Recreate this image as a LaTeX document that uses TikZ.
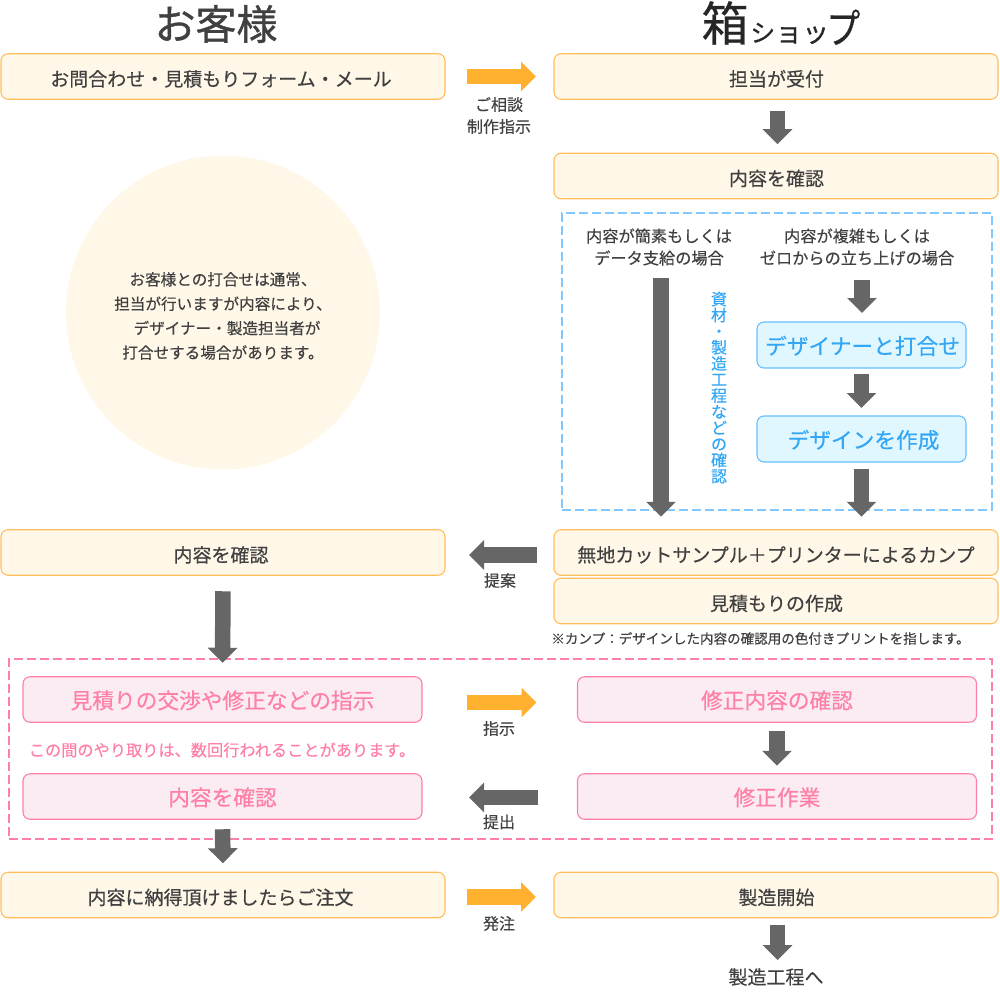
\documentclass[tikz,border=0pt]{standalone}
\usepackage{fontspec}
\setmainfont{Noto Sans CJK JP}[FakeBold=0.35]
\newfontfamily\titlefont{Noto Sans CJK JP}[FakeBold=0.9]
\newfontfamily\logofont{Noto Sans CJK JP}[FakeBold=0.5]
\usetikzlibrary{arrows.meta}
\definecolor{txt}{HTML}{404040}
\definecolor{oline}{HTML}{FFBE5C}
\definecolor{ofill}{HTML}{FFF7E8}
\definecolor{oarrow}{HTML}{FFB02E}
\definecolor{bline}{HTML}{66BFFF}
\definecolor{bfill}{HTML}{E0F7FF}
\definecolor{btxt}{HTML}{33A6F5}
\definecolor{bdash}{HTML}{80C8FF}
\definecolor{pline}{HTML}{FF80A6}
\definecolor{pfill}{HTML}{FBEBF3}
\definecolor{gray6}{HTML}{666666}
\newcommand{\fs}[2]{\fontsize{#1}{#2}\selectfont}
\tikzset{
  base/.style={inner sep=0pt,outer sep=0pt,rounded corners=7pt,line width=1.1pt,text depth=0pt,align=center},
  obox/.style={base,draw=oline,fill=ofill,text=txt,font=\fs{19}{22},text height=19.2pt,minimum width=444pt,minimum height=45.5pt},
  bbox/.style={base,draw=bline,fill=bfill,text=btxt,font=\fs{21.7}{26},minimum width=209pt,minimum height=46pt},
  pbox/.style={base,draw=pline,fill=pfill,text=pline,font=\fs{21.7}{26},minimum width=399pt,minimum height=45.5pt},
  label/.style={inner sep=0pt,text=txt,font=\fs{16}{22},align=center},
  bodytext/.style={inner sep=0pt,text=txt,font=\fs{16.2}{22},align=center},
  grayarrow/.style={draw=gray6,line width=15.5pt,-{Triangle[length=15pt,width=29pt,fill=gray6]}},
  orangearrow/.style={draw=oarrow,line width=15.5pt,-{Triangle[length=15pt,width=29pt,fill=oarrow]}},
  bluedash/.style={draw=bdash,line width=1.5pt,dash pattern=on 9pt off 4pt},
  pinkdash/.style={draw=pline,line width=1.5pt,dash pattern=on 9pt off 4pt},
}
\begin{document}
\begin{tikzpicture}[x=1pt,y=-1pt]
\useasboundingbox (0,0) rectangle (1000,1000);
% titles
\node[inner sep=0pt,text=txt,font=\titlefont\fs{41}{44}] (t1) at (216,24) {お客様};
\node[inner sep=0pt,text=black!85,font=\logofont\fs{47}{47},anchor=center] (t2) at (725,23) {箱};
\node[inner sep=0pt,text=black!85,font=\logofont,anchor=base west] (t3) at (750,42) {\fs{25}{30}シ\fs{27}{30}ョッ\kern-3pt\raisebox{-1.5pt}{\scalebox{1}[1.2]{\fs{34}{38}プ}}};
% circle
\node[circle,fill=ofill,minimum size=314pt,inner sep=0pt] (circ) at (223,312.5) {};
\node[inner sep=0pt,text=txt,font=\fs{15.6}{24.4},align=center] (circt) at (223,316) 
 {お客様との打合せは通常、\\担当が行いますが内容により、\\\kern8pt デザイナー・製造担当者が\\打合せする場合があります。};
% dashed regions
\node[bluedash,minimum width=430pt,minimum height=297pt,inner sep=0pt] (bregion) at (777,361.5) {};
\node[pinkdash,minimum width=983pt,minimum height=180pt,inner sep=0pt] (pregion) at (500.5,749) {};
% orange boxes
\node[obox] (a1) at (223,76.5) {お問合わせ・見積もりフォーム・メール\kern4pt};
\node[obox] (b1) at (776,76.5) {\kern1pt 担当が受付};
\node[obox] (b2) at (776,176) {\kern1pt 内容を確認};
\node[obox] (a2) at (223,552.5) {内容を確認\kern4pt};
\node[obox] (k1) at (776,552.5) {無地カットサンプル＋プリンターによるカンプ};
\node[obox] (k2) at (776,601) {\kern1pt 見積もりの作成};
\node[obox] (a3) at (223,895) {内容に納得頂けましたらご注文\kern5pt};
\node[obox] (b3) at (776,895) {\kern1pt 製造開始};
% blue region
\node[bodytext] (s1) at (659,247) {内容が簡素もしくは\\データ支給の場合};
\node[bodytext] (s2) at (857,247) {内容が複雑もしくは\\ゼロからの立ち上げの場合};
\node[bbox] (d1) at (861.5,345) {\kern2pt デザイナーと打合せ};
\node[bbox] (d2) at (861.5,439) {\kern4pt デザインを作成};
\node[inner sep=0pt,text=btxt,align=center,font=\fs{16}{16.1}] (v1) at (719,387.5)
 {資\\材\\・\\製\\造\\工\\程\\な\\ど\\の\\確\\認};
% pink region
\node[pbox] (p1) at (222.5,699.5) {見積りの交渉や修正などの指示};
\node[inner sep=0pt,text=pline,font=\fs{16.2}{20}] (pnote) at (222,750) {この間のやり取りは、数回行われることがあります。};
\node[pbox] (p2) at (222.5,796.5) {内容を確認};
\node[pbox] (q1) at (777,699.5) {修正内容の確認};
\node[pbox] (q2) at (777,796.5) {修正作業};
% labels
\node[label] (l1) at (499,115.5) {ご相談\\制作指示};
\node[label] (l2) at (500,580.5) {提案};
\node[label] (l3) at (499,728.5) {指示};
\node[label] (l4) at (499,822) {提出};
\node[label] (l5) at (499,923.5) {発注};
\node[inner sep=0pt,text=txt,font=\fs{13.55}{16}] (n1) at (760.5,638.5) {※カンプ：デザインした内容の確認用の色付きプリントを指します。};
\node[inner sep=0pt,text=txt,font=\fs{19}{22}] (e1) at (776,977) {製造工程へ};
% connectors
\coordinate (u1) at (661,278);
\coordinate (u2) at (862,280);
\draw[orangearrow,shorten <=22pt,shorten >=18pt] (a1.east) -- (b1.west);
\draw[grayarrow,shorten <=12pt,shorten >=9pt] ([xshift=1.5pt]b1.south) -- ([xshift=1.5pt]b2.north);
\draw[grayarrow,shorten >=13pt] (u1) -- (u1 |- k1.north);
\draw[grayarrow,shorten >=9pt] (u2) -- (u2 |- d1.north);
\draw[grayarrow,shorten <=6pt,shorten >=8pt] (d1.south) -- (d2.north);
\draw[grayarrow,shorten <=7pt,shorten >=13pt] (d2.south) -- (d2.south |- k1.north);
\draw[grayarrow,shorten <=17pt,shorten >=24pt] ([yshift=-2.5pt]k1.west) -- ([yshift=-2.5pt]a2.east);
\draw[grayarrow,shorten <=16pt,shorten >=14pt] (a2.south) -- (p1.north);
\draw[orangearrow,shorten <=45pt,shorten >=41pt] ([yshift=-3pt]p1.east) -- ([yshift=-3pt]q1.west);
\draw[grayarrow,shorten <=40pt,shorten >=47pt] ([yshift=-1pt]q2.west) -- ([yshift=-1pt]p2.east);
\draw[grayarrow,shorten <=9pt,shorten >=8pt] (q1.south) -- (q2.north);
\draw[grayarrow,shorten <=10pt,shorten >=9pt] (p2.south) -- (a3.north);
\draw[orangearrow,shorten <=22pt,shorten >=18pt] ([yshift=-2pt]a3.east) -- ([yshift=-2pt]b3.west);
\draw[grayarrow,shorten <=7pt,shorten >=8pt] ([xshift=1.5pt]b3.south) -- ([xshift=1.5pt]e1.north);
\end{tikzpicture}
\end{document}
